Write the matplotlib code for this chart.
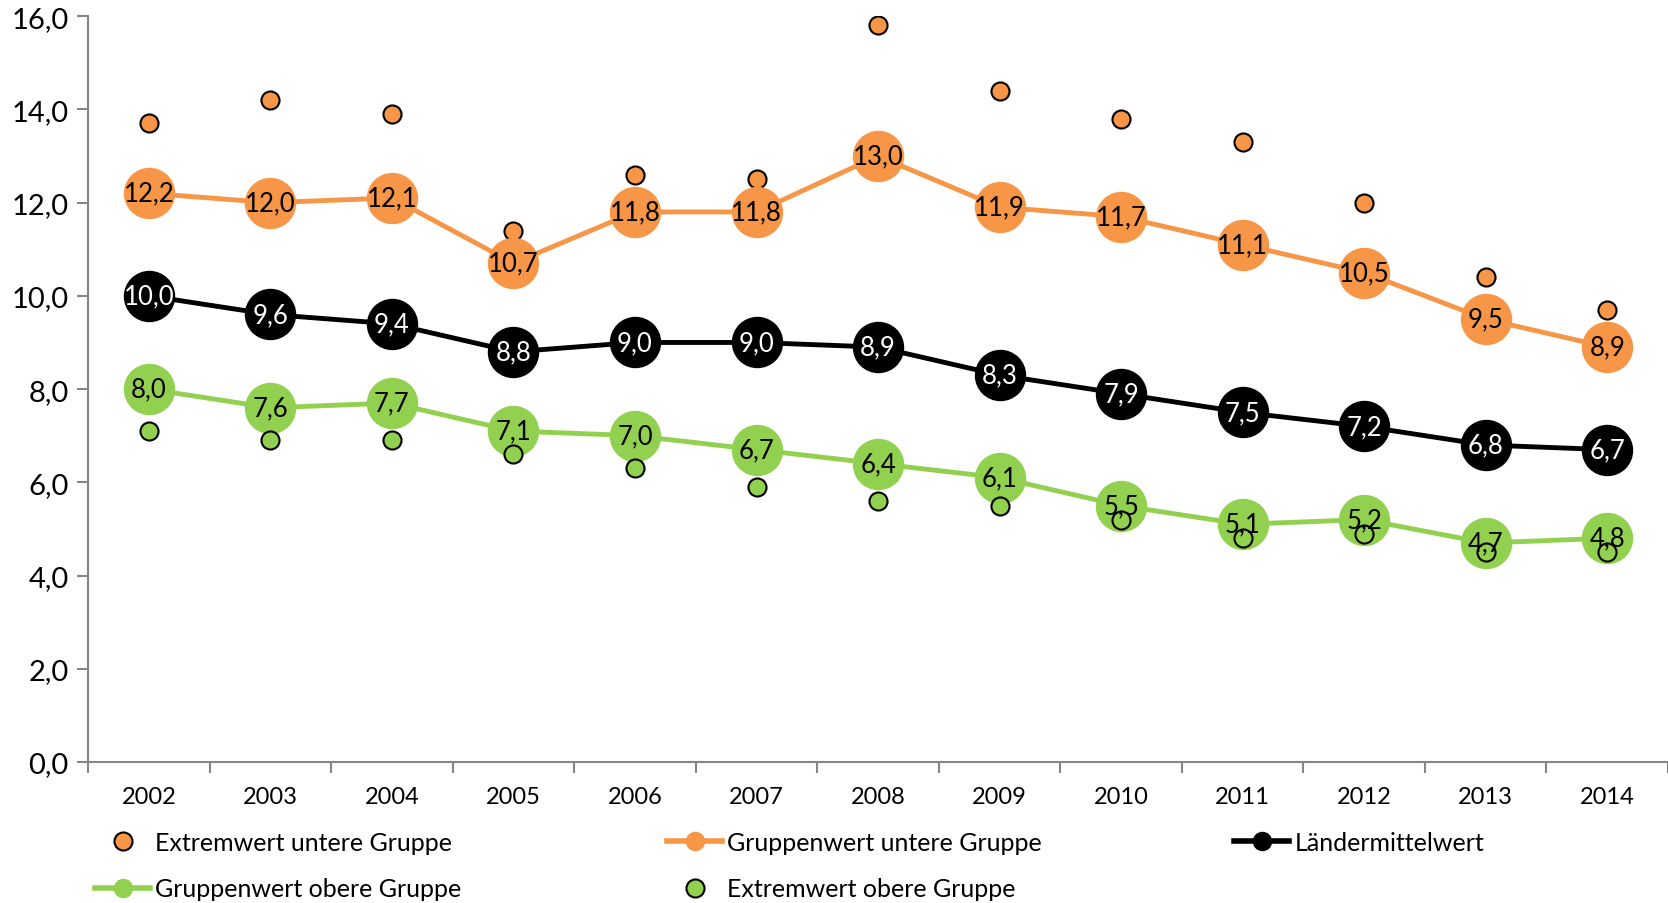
import numpy as np
import matplotlib
matplotlib.use("Agg")
import matplotlib.pyplot as plt
from matplotlib.lines import Line2D

plt.rcParams['font.family'] = ['Lato', 'DejaVu Sans']

years = ['2002', '2003', '2004', '2005', '2006', '2007', '2008',
         '2009', '2010', '2011', '2012', '2013', '2014']
extrem_unten = [13.7, 14.2, 13.9, 11.4, 12.6, 12.5, 15.8, 14.4, 13.8, 13.3, 12.0, 10.4, 9.7]
gruppe_unten = [12.2, 12.0, 12.1, 10.7, 11.8, 11.8, 13.0, 11.9, 11.7, 11.1, 10.5, 9.5, 8.9]
laender_mittel = [10.0, 9.6, 9.4, 8.8, 9.0, 9.0, 8.9, 8.3, 7.9, 7.5, 7.2, 6.8, 6.7]
gruppe_oben = [8.0, 7.6, 7.7, 7.1, 7.0, 6.7, 6.4, 6.1, 5.5, 5.1, 5.2, 4.7, 4.8]
extrem_oben = [7.1, 6.9, 6.9, 6.6, 6.3, 5.9, 5.6, 5.5, 5.2, 4.8, 4.9, 4.5, 4.5]
y_ticks = [0, 2, 4, 6, 8, 10, 12, 14, 16]

ORANGE = '#F79646'
GREEN = '#92D050'
AXIS = '#868686'

fig = plt.figure(figsize=(16.68, 9.04), dpi=100)
ax = fig.add_axes([0.0528, 0.156, 0.9472, 0.825])
x = np.arange(len(years))

big = 36
small = 13

ax.plot(x, extrem_unten, ls='none', marker='o', ms=small, mfc=ORANGE,
        mec='black', mew=1.5, zorder=2)
ax.plot(x, gruppe_unten, color=ORANGE, lw=3.5, marker='o', ms=big,
        mfc=ORANGE, mec=ORANGE, zorder=3)
ax.plot(x, laender_mittel, color='black', lw=3.5, marker='o', ms=big,
        mfc='black', mec='black', zorder=4)
ax.plot(x, gruppe_oben, color=GREEN, lw=3.5, marker='o', ms=big,
        mfc=GREEN, mec=GREEN, zorder=5)
ax.plot(x, extrem_oben, ls='none', marker='o', ms=small, mfc=GREEN,
        mec='black', mew=1.5, zorder=6)

def fmt(v):
    return f'{v:.1f}'.replace('.', ',')

for vals, col in [(gruppe_unten, 'black'), (laender_mittel, 'white'), (gruppe_oben, 'black')]:
    for xi, v in zip(x, vals):
        ax.text(xi, v, fmt(v), ha='center', va='center', fontsize=18.5,
                color=col, zorder=10)

ax.set_xlim(-0.5, len(years) - 0.5)
ax.set_ylim(0, 16)
ax.set_yticks(y_ticks)
ax.set_yticklabels([fmt(v) for v in y_ticks], fontsize=21)
ax.set_xticks(x)
ax.set_xticklabels(years, fontsize=17)
ax.set_xticks(np.arange(-0.5, len(years)), minor=True)
ax.tick_params(axis='x', which='major', length=0, pad=17)
ax.tick_params(axis='x', which='minor', length=8, color=AXIS, width=1.5)
ax.tick_params(axis='y', length=8, color=AXIS, width=1.5, pad=6)

for s in ['top', 'right']:
    ax.spines[s].set_visible(False)
for s in ['left', 'bottom']:
    ax.spines[s].set_color(AXIS)
    ax.spines[s].set_linewidth(1.5)

def handle(color, line):
    if line:
        return Line2D([], [], color=color, lw=4, marker='o', ms=13,
                      mfc=color, mec=color)
    return Line2D([], [], ls='none', marker='o', ms=13, mfc=color,
                  mec='black', mew=1.5)

leg_kw = dict(frameon=False, fontsize=18, handlelength=2.2, handletextpad=0.2,
              labelspacing=0.95, borderaxespad=0, borderpad=0, loc='upper left')
l1 = fig.legend([handle(ORANGE, False), handle(GREEN, True)],
                ['Extremwert untere Gruppe', 'Gruppenwert obere Gruppe'],
                bbox_to_anchor=(0.057, 0.080), **leg_kw)
l2 = fig.legend([handle(ORANGE, True), handle(GREEN, False)],
                ['Gruppenwert untere Gruppe', 'Extremwert obere Gruppe'],
                bbox_to_anchor=(0.400, 0.080), **leg_kw)
l3 = fig.legend([handle('black', True)], ['Ländermittelwert'],
                bbox_to_anchor=(0.740, 0.080), **leg_kw)

fig.savefig('out.png', dpi=100)
